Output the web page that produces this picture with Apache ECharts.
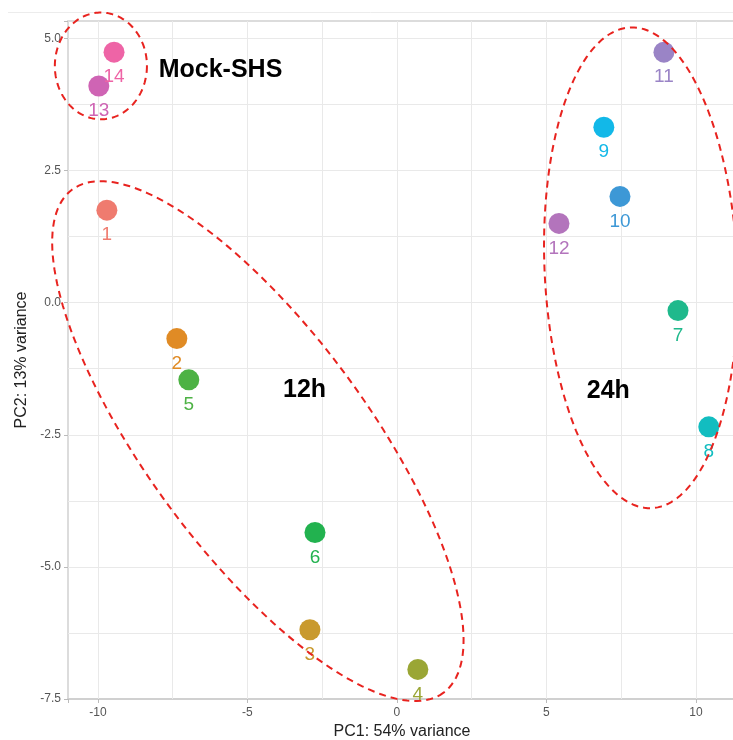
<!DOCTYPE html>
<html>
<head>
<meta charset="utf-8">
<script src="https://cdn.jsdelivr.net/npm/echarts@6/dist/echarts.min.js"></script>
<style>
html,body{margin:0;padding:0;background:#fff;}
#chart{width:733px;height:740px;}
</style>
</head>
<body>
<div id="chart"></div>
<script>
// ---- data ----
const sampleIds = ['1','2','3','4','5','6','7','8','9','10','11','12','13','14'];
const pc1 = [-9.70, -7.36, -2.91, 0.70, -6.96, -2.74, 9.40, 10.43, 6.92, 7.46, 8.93, 5.42, -9.97, -9.46];
const pc2 = [1.75, -0.68, -6.19, -6.94, -1.46, -4.35, -0.15, -2.35, 3.32, 2.01, 4.74, 1.50, 4.10, 4.74];
const sampleColors = ['#EF7B6F','#E08B25','#C99A2E','#9AA635','#4DB244','#22B24F','#1FB98C',
                      '#12BDC0','#12B8E8','#3D98D6','#9A84C6','#B374BC','#CF64B4','#EE64A6'];

const xTicks = [-10, -5, 0, 5, 10];
const yTicks = [-7.5, -5.0, -2.5, 0.0, 2.5, 5.0];
const xGrid = [-10, -7.5, -5, -2.5, 0, 2.5, 5, 7.5, 10];
const yGrid = [-6.25, -5, -3.75, -2.5, -1.25, 0, 1.25, 2.5, 3.75, 5];

const groupLabels = ['Mock-SHS', '12h', '24h'];
const groupLabelX = [-5.90, -3.09, 7.07];
const groupLabelY = [4.40, -1.65, -1.67];

// annotation ellipses: centre + two conjugate semi-diameters, in data units
const ellipseCentres = [[-9.90, 4.48], [-4.65, -2.62], [8.16, 0.66]];
const ellipseU = [[1.54, 0], [6.21, -4.76], [3.24, -0.42]];
const ellipseV = [[0, -1.01], [-2.96, -1.24], [0, -4.53]];

const X_MIN = -11.0, X_MAX = 11.34, Y_MIN = -7.5, Y_MAX = 5.33;

const chart = echarts.init(document.getElementById('chart'));
const FONT = 'Liberation Sans, Arial, Helvetica, sans-serif';

const pointData = sampleIds.map((id, i) => ({
  name: id,
  value: [pc1[i], pc2[i]],
  itemStyle: { color: sampleColors[i], opacity: 1 },
  label: { color: sampleColors[i] }
}));

const option = {
  animation: false,
  backgroundColor: '#fff',
  grid: { left: 68, top: 21, right: -3, bottom: 41, containLabel: false, outerBoundsMode: 'none' },
  graphic: [{
    type: 'line', silent: true, z: -1,
    shape: { x1: 8, y1: 12.5, x2: 733, y2: 12.5 },
    style: { stroke: '#ececec', lineWidth: 1 }
  }],
  xAxis: [{
    type: 'value', min: X_MIN, max: X_MAX, minInterval: 5, maxInterval: 5,
    name: 'PC1: 54% variance', nameLocation: 'middle', nameGap: 25,
    nameTextStyle: { fontFamily: FONT, fontSize: 16, color: '#222' },
    axisLine: { show: true, onZero: false, lineStyle: { color: '#d0d0d0', width: 2 } },
    axisTick: { show: true, length: 4, lineStyle: { color: '#bbb' } },
    axisLabel: { margin: 8, fontFamily: FONT, fontSize: 12, color: '#555',
      formatter: v => xTicks.includes(v) ? String(v) : '' },
    splitLine: { show: false }
  }, {
    type: 'value', min: X_MIN, max: X_MAX, position: 'top',
    axisLine: { show: true, onZero: false, lineStyle: { color: '#dcdcdc', width: 2 } },
    axisTick: { show: false }, axisLabel: { show: false }, splitLine: { show: false }
  }],
  yAxis: {
    type: 'value', min: Y_MIN, max: Y_MAX, interval: 2.5,
    name: 'PC2: 13% variance', nameLocation: 'middle', nameGap: 34,
    nameTextStyle: { fontFamily: FONT, fontSize: 16, color: '#222' },
    axisLine: { show: true, onZero: false, lineStyle: { color: '#dcdcdc', width: 2 } },
    axisTick: { show: true, length: 4, lineStyle: { color: '#bbb' } },
    axisLabel: { margin: 7, fontFamily: FONT, fontSize: 12, color: '#555',
      formatter: v => yTicks.some(t => Math.abs(t - v) < 1e-9) ? v.toFixed(1) : '' },
    splitLine: { show: false }
  },
  series: [
    {
      type: 'line', data: [], silent: true,
      markLine: {
        z: 1, silent: true, symbol: ['none', 'none'], animation: false,
        label: { show: false },
        lineStyle: { type: 'solid', color: '#e9e9e9', width: 1 },
        emphasis: { disabled: true },
        data: xGrid.map(v => ({ xAxis: v })).concat(yGrid.map(v => ({ yAxis: v })))
      }
    },
    {
      type: 'scatter', z: 3, symbol: 'circle', symbolSize: 21,
      data: pointData,
      itemStyle: { opacity: 1 },
      label: { show: true, position: 'bottom', distance: 5, formatter: '{b}',
        fontFamily: FONT, fontSize: 19 },
      emphasis: { disabled: true }
    },
    {
      type: 'custom', z: 6, silent: true, clip: false,
      data: ellipseCentres.map(c => c.slice()),
      renderItem: function (params, api) {
        const i = params.dataIndex;
        const c = ellipseCentres[i], u = ellipseU[i], v = ellipseV[i];
        const pts = [];
        const N = 180;
        for (let k = 0; k <= N; k++) {
          const t = k / N * Math.PI * 2;
          pts.push(api.coord([c[0] + u[0] * Math.cos(t) + v[0] * Math.sin(t),
                              c[1] + u[1] * Math.cos(t) + v[1] * Math.sin(t)]));
        }
        return { type: 'polyline', shape: { points: pts },
          style: { stroke: '#E8231F', lineWidth: 2, lineDash: [7, 5], fill: null } };
      }
    },
    {
      type: 'scatter', z: 7, silent: true, symbolSize: 1,
      itemStyle: { color: 'rgba(0,0,0,0)' },
      data: groupLabels.map((g, i) => ({ name: g, value: [groupLabelX[i], groupLabelY[i]] })),
      label: { show: true, position: 'inside', formatter: '{b}',
        fontFamily: FONT, fontSize: 25, fontWeight: 'bold', color: '#000', opacity: 1 },
      emphasis: { disabled: true }
    }
  ]
};
chart.setOption(option);
</script>
</body>
</html>
